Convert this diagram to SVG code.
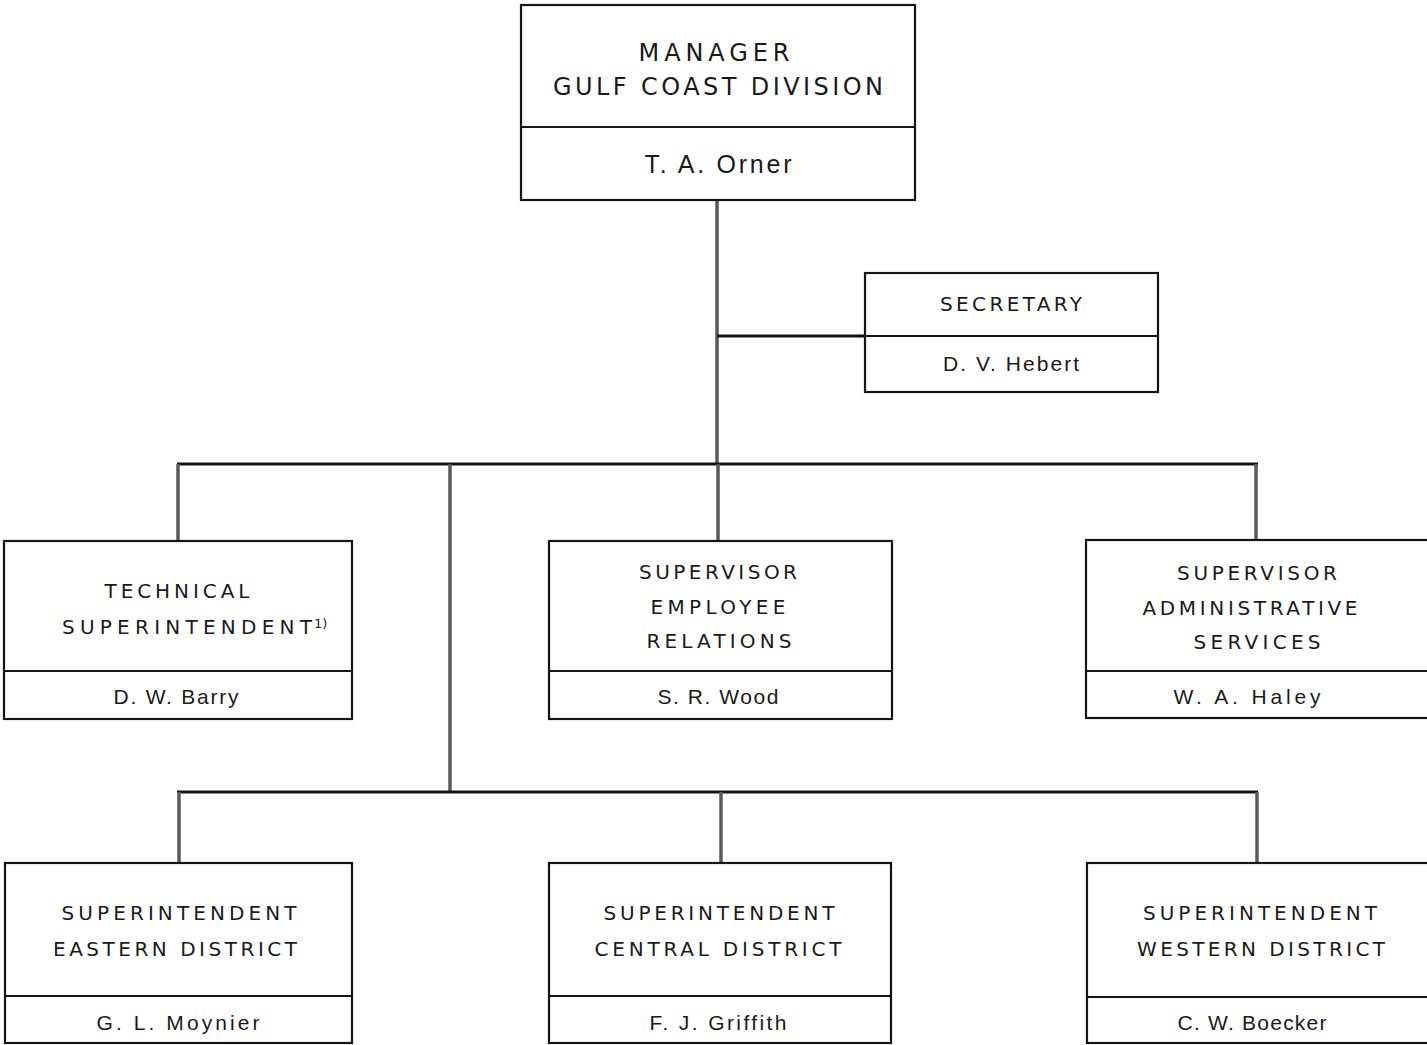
<svg xmlns="http://www.w3.org/2000/svg" width="1427" height="1045" viewBox="0 0 1427 1045">
<style>
.box{fill:#fff;stroke:#141414;stroke-width:2.2}
.div{stroke:#141414;stroke-width:2.2}
.t{font-family:"DejaVu Sans","Liberation Sans",Arial,sans-serif;font-size:20px;fill:#1a1a1a;text-anchor:middle}
.big{font-size:24px}
.nm{font-family:"Liberation Sans",Arial,sans-serif;font-size:21px}
.bus{stroke:#111;stroke-width:3;fill:none}
.drop{stroke:#5a5a5a;stroke-width:3.5;fill:none}
</style>
<rect width="1427" height="1045" fill="#fff"/>
<g id="connectors">
<line class="drop" x1="717" y1="200" x2="717" y2="465"/>
<line class="bus" x1="717" y1="336" x2="865" y2="336"/>
<line class="bus" x1="177" y1="464" x2="1258" y2="464"/>
<line class="drop" x1="178" y1="464" x2="178" y2="541"/>
<line class="drop" x1="718" y1="464" x2="718" y2="541"/>
<line class="drop" x1="1256" y1="464" x2="1256" y2="540"/>
<line class="drop" x1="450" y1="464" x2="450" y2="792"/>
<line class="bus" x1="177" y1="792" x2="1258" y2="792"/>
<line class="drop" x1="179" y1="792" x2="179" y2="863"/>
<line class="drop" x1="721" y1="792" x2="721" y2="863"/>
<line class="drop" x1="1257" y1="792" x2="1257" y2="863"/>
</g>
<g id="manager">
<rect class="box" x="521" y="5" width="394" height="195"/>
<line class="div" x1="521" y1="127" x2="915" y2="127"/>
<text class="t big" x="714" y="61" textLength="151" lengthAdjust="spacing">MANAGER</text>
<text class="t big" x="718" y="95" textLength="330" lengthAdjust="spacing">GULF COAST DIVISION</text>
<text class="t nm" style="font-size:25px" x="718" y="173" textLength="147" lengthAdjust="spacing">T. A. Orner</text>
</g>
<g id="secretary">
<rect class="box" x="865" y="273" width="293" height="119"/>
<line class="div" x1="865" y1="336" x2="1158" y2="336"/>
<text class="t" x="1011" y="311" textLength="142" lengthAdjust="spacing">SECRETARY</text>
<text class="t nm" x="1011" y="371" textLength="136" lengthAdjust="spacing">D. V. Hebert</text>
</g>
<g id="technical">
<rect class="box" x="4" y="541" width="348" height="178"/>
<line class="div" x1="4" y1="671" x2="352" y2="671"/>
<text class="t" x="177" y="598" textLength="145" lengthAdjust="spacing">TECHNICAL</text>
<text class="t" x="62" y="634" style="text-anchor:start" textLength="250" lengthAdjust="spacing">SUPERINTENDENT</text>
<text class="t" x="314" y="628" style="text-anchor:start;font-size:13px">1)</text>
<text class="t nm" x="176" y="704" textLength="125" lengthAdjust="spacing">D. W. Barry</text>
</g>
<g id="employee">
<rect class="box" x="549" y="541" width="343" height="178"/>
<line class="div" x1="549" y1="671" x2="892" y2="671"/>
<text class="t" x="718" y="579" textLength="158" lengthAdjust="spacing">SUPERVISOR</text>
<text class="t" x="718" y="614" textLength="135" lengthAdjust="spacing">EMPLOYEE</text>
<text class="t" x="719" y="648" textLength="145" lengthAdjust="spacing">RELATIONS</text>
<text class="t nm" x="718" y="704" textLength="121" lengthAdjust="spacing">S. R. Wood</text>
</g>
<g id="admin">
<rect class="box" x="1086" y="540" width="345" height="178"/>
<line class="div" x1="1086" y1="671" x2="1431" y2="671"/>
<text class="t" x="1257" y="580" textLength="160" lengthAdjust="spacing">SUPERVISOR</text>
<text class="t" x="1250" y="615" textLength="215" lengthAdjust="spacing">ADMINISTRATIVE</text>
<text class="t" x="1257" y="649" textLength="127" lengthAdjust="spacing">SERVICES</text>
<text class="t nm" x="1247" y="704" textLength="147" lengthAdjust="spacing">W. A. Haley</text>
</g>
<g id="eastern">
<rect class="box" x="5" y="863" width="347" height="180"/>
<line class="div" x1="5" y1="996" x2="352" y2="996"/>
<text class="t" x="179" y="920" textLength="235" lengthAdjust="spacing">SUPERINTENDENT</text>
<text class="t" x="175" y="956" textLength="244" lengthAdjust="spacing">EASTERN DISTRICT</text>
<text class="t nm" x="178" y="1030" textLength="163" lengthAdjust="spacing">G. L. Moynier</text>
</g>
<g id="central">
<rect class="box" x="549" y="863" width="342" height="180"/>
<line class="div" x1="549" y1="996" x2="891" y2="996"/>
<text class="t" x="719" y="920" textLength="231" lengthAdjust="spacing">SUPERINTENDENT</text>
<text class="t" x="718" y="956" textLength="247" lengthAdjust="spacing">CENTRAL DISTRICT</text>
<text class="t nm" x="718" y="1030" textLength="137" lengthAdjust="spacing">F. J. Griffith</text>
</g>
<g id="western">
<rect class="box" x="1087" y="863" width="345" height="180"/>
<line class="div" x1="1087" y1="997" x2="1432" y2="997"/>
<text class="t" x="1260" y="920" textLength="234" lengthAdjust="spacing">SUPERINTENDENT</text>
<text class="t" x="1261" y="956" textLength="248" lengthAdjust="spacing">WESTERN DISTRICT</text>
<text class="t nm" x="1252" y="1030" textLength="149" lengthAdjust="spacing">C. W. Boecker</text>
</g>
</svg>
